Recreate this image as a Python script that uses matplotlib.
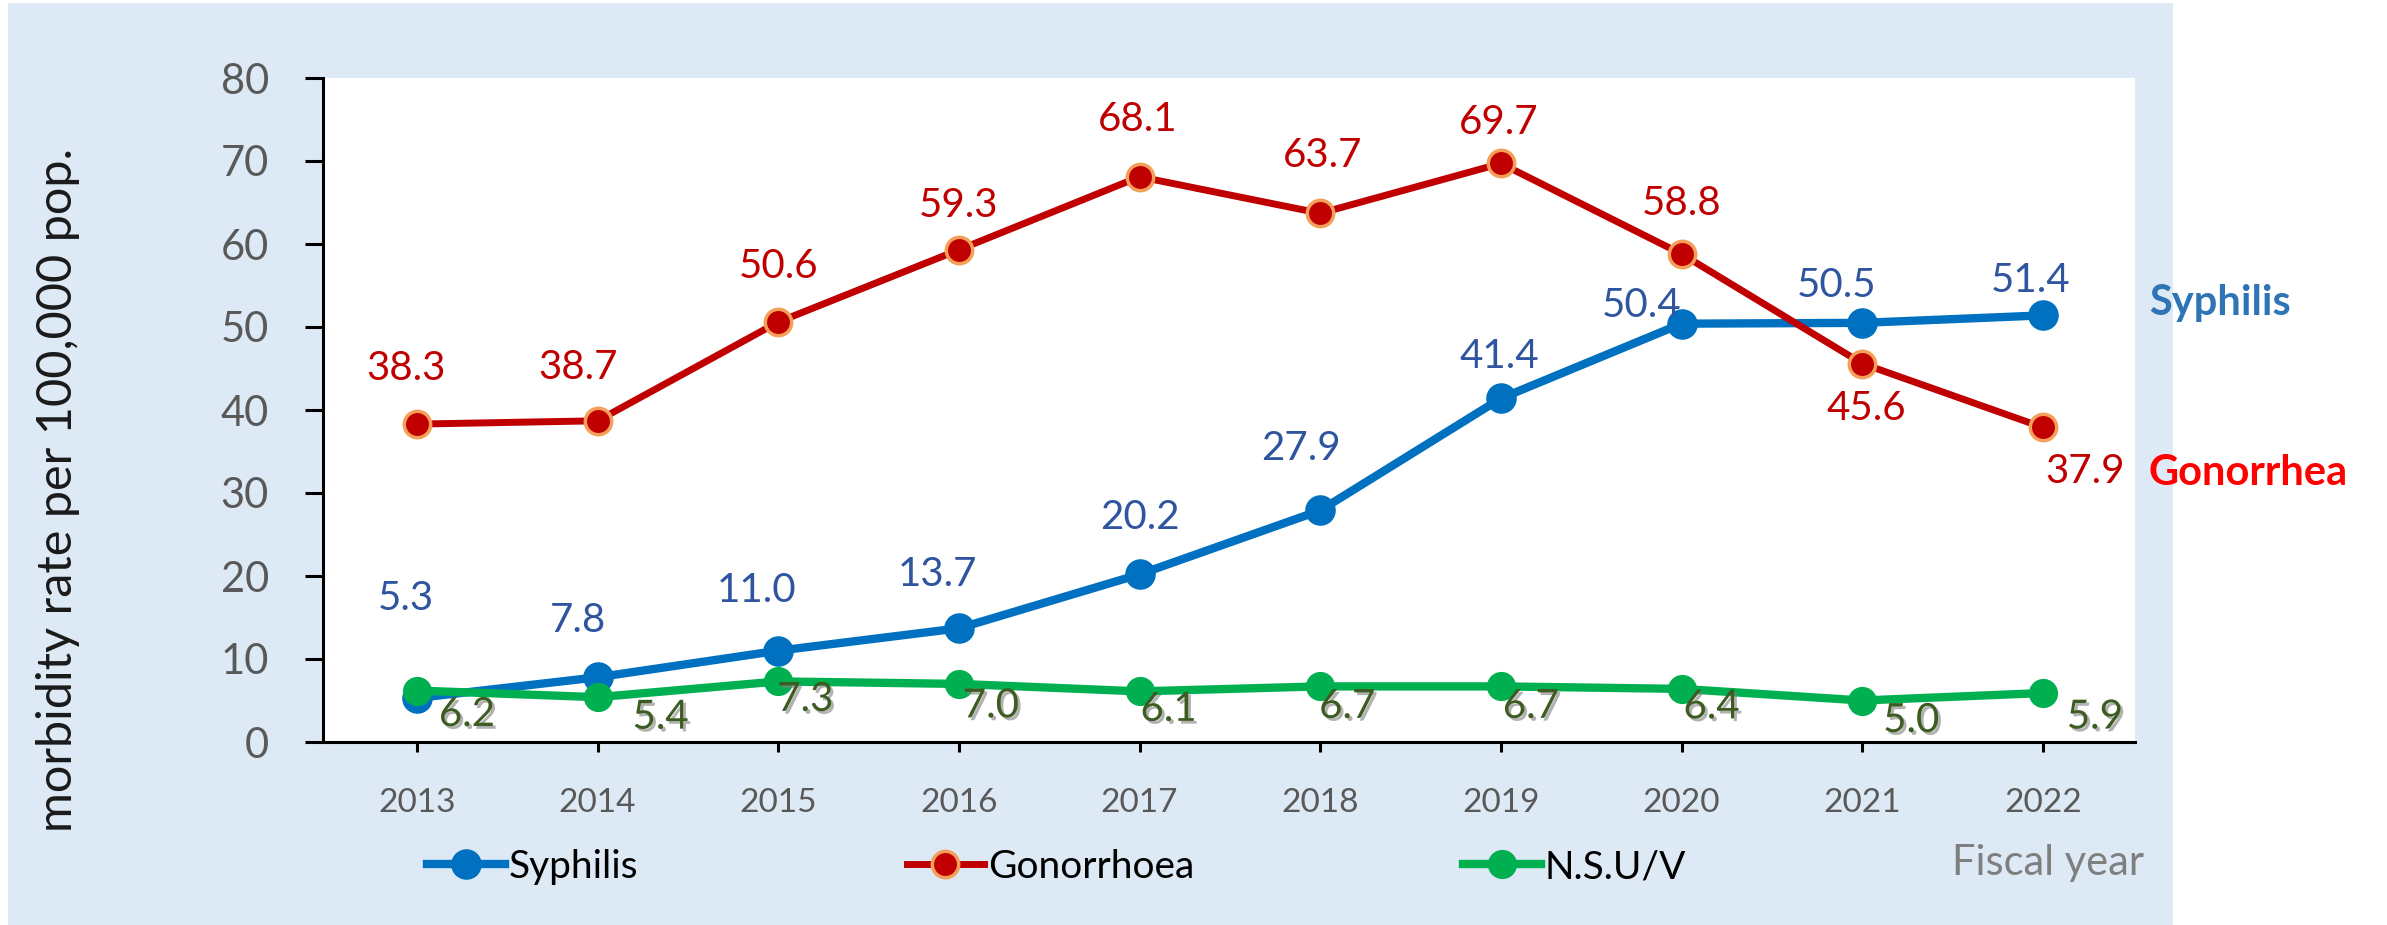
import matplotlib

matplotlib.use("Agg")
import matplotlib.pyplot as plt
import matplotlib.patheffects as pe
from matplotlib.patches import Rectangle

plt.rcParams["font.family"] = ["Lato", "DejaVu Sans"]

# data
years = ["2013", "2014", "2015", "2016", "2017", "2018", "2019", "2020", "2021", "2022"]
syphilis = [5.3, 7.8, 11.0, 13.7, 20.2, 27.9, 41.4, 50.4, 50.5, 51.4]
gonorrhoea = [38.3, 38.7, 50.6, 59.3, 68.1, 63.7, 69.7, 58.8, 45.6, 37.9]
nsu = [6.2, 5.4, 7.3, 7.0, 6.1, 6.7, 6.7, 6.4, 5.0, 5.9]

# label placement (pixels, relative to the marker)
syph_off = [(-11, 100), (-20, 57), (-22, 60), (-21, 54), (0, 57),
            (-19, 62), (-2, 42), (-40, 18), (-26, 37), (-12, 35)]
gono_off = [(-11, 56), (-20, 53), (0, 56), (0, 44), (-2, 57),
            (2, 58), (-2, 41), (0, 50), (4, -45), (42, -44)]
nsu_off = [(50, -24), (63, -20), (27, -18), (32, -22), (29, -18),
           (27, -20), (30, -20), (30, -18), (49, -20), (52, -24)]

W, H = 2387, 925
fig = plt.figure(figsize=(W / 100, H / 100), dpi=100)
fig.patch.set_facecolor("white")

# light blue panel behind the chart
fig.patches.append(Rectangle((8 / W, 0), (2173 - 8) / W, (H - 3) / H,
                             transform=fig.transFigure, facecolor="#DDEAF6",
                             edgecolor="none", zorder=-1))

ax = fig.add_axes([323 / W, 1 - 742 / H, (2135 - 323) / W, (742 - 78) / H])
ax.set_facecolor("white")

x = list(range(len(years)))
l1, = ax.plot(x, syphilis, color="#0070C0", lw=6, marker="o", ms=21,
              mfc="#0070C0", mec="#0070C0", label="Syphilis", zorder=3)
l2, = ax.plot(x, gonorrhoea, color="#C00000", lw=5, marker="o", ms=19,
              mfc="#C00000", mec="#F4A05A", mew=2.5, label="Gonorrhoea", zorder=4)
l3, = ax.plot(x, nsu, color="#00B050", lw=6, marker="o", ms=20,
              mfc="#00B050", mec="#00B050", label="N.S.U/V", zorder=5)

for i, v in enumerate(syphilis):
    ax.annotate(f"{v:.1f}", (i, v), xytext=syph_off[i], textcoords="offset pixels",
                ha="center", va="center", fontsize=29, color="#2F55A0", zorder=6)
for i, v in enumerate(gonorrhoea):
    ax.annotate(f"{v:.1f}", (i, v), xytext=gono_off[i], textcoords="offset pixels",
                ha="center", va="center", fontsize=29, color="#C00000", zorder=6)
shadow = [pe.SimplePatchShadow(offset=(2, -2), shadow_rgbFace="#808080", alpha=0.6),
          pe.Normal()]
for i, v in enumerate(nsu):
    ax.annotate(f"{v:.1f}", (i, v), xytext=nsu_off[i], textcoords="offset pixels",
                ha="center", va="center", fontsize=29, color="#3D5C22",
                path_effects=shadow, zorder=6)

ax.set_xlim(-0.52, 9.51)
ax.set_ylim(0, 80)
ax.set_yticks(range(0, 81, 10))
ax.set_xticks(x)
ax.set_xticklabels(years)
for s in ["top", "right"]:
    ax.spines[s].set_visible(False)
for s in ["left", "bottom"]:
    ax.spines[s].set_linewidth(2.2)
    ax.spines[s].set_color("black")
ax.tick_params(axis="y", length=13, width=2.2, pad=26, labelsize=30, labelcolor="#595959")
ax.tick_params(axis="x", length=7, width=2.2, pad=26, labelsize=24, labelcolor="#595959")

fig.text(58 / W, 1 - 490 / H, "morbidity rate per 100,000 pop.", rotation=90,
         ha="center", va="center", fontsize=35, color="#1A1A1A")
fig.text(1952 / W, 1 - 863 / H, "Fiscal year", ha="left", va="center",
         fontsize=30, color="#7F7F7F")
fig.text(2149 / W, 1 - 303 / H, "Syphilis", ha="left", va="center",
         fontsize=30, fontweight="bold", color="#2E75B6")
fig.text(2149 / W, 1 - 473 / H, "Gonorrhea", ha="left", va="center",
         fontsize=30, fontweight="bold", color="#FF0000")

fig.legend(handles=[l1, l2, l3], loc="center left",
           bbox_to_anchor=(427 / W, 1 - 867 / H), ncol=3, frameon=False,
           fontsize=28, handlelength=2.0, handletextpad=0.1, columnspacing=6.9,
           borderaxespad=0, borderpad=0)

fig.savefig("out.png", dpi=100, facecolor=fig.get_facecolor())
